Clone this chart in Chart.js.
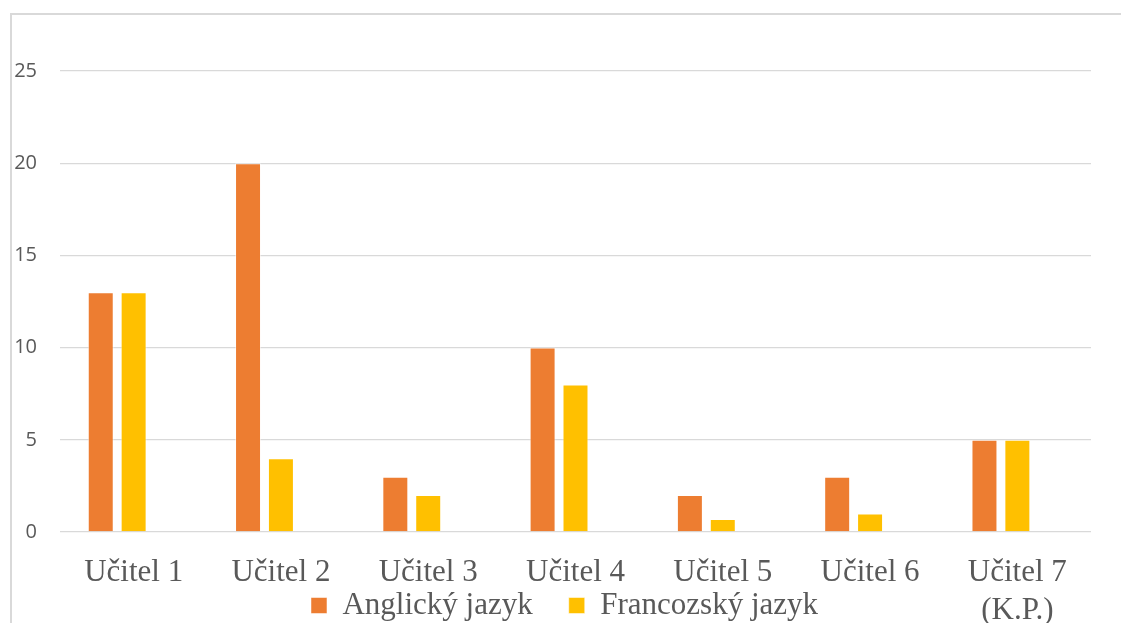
<!DOCTYPE html>
<html>
<head>
<meta charset="utf-8">
<script src="https://cdn.jsdelivr.net/npm/chart.js@4/dist/chart.umd.min.js"></script>
<style>
    body { margin: 0; overflow: hidden; background: #fff; }
    #frame { position: absolute; left: 10px; top: 13px; width: 1200px; height: 700px;
             border-top: 2px solid #d9d9d9; border-left: 2px solid #d9d9d9; }
    #wrap { position: absolute; left: 0; top: 0; width: 1121px; height: 623px; overflow: hidden; }
</style>
</head>
<body>
<div id="frame"></div>
<div id="wrap"><canvas id="chart" width="1121" height="701"></canvas></div>
<script>
var categories = ['Učitel 1', 'Učitel 2', 'Učitel 3', 'Učitel 4', 'Učitel 5', 'Učitel 6', ['Učitel 7', '(K.P.)']];
var anglicky = [13, 20, 3, 10, 2, 3, 5];
var francozsky = [13, 4, 2, 8, 0.7, 1, 5];
// third series is empty in the original, it only takes a slot
var prazdne = [null, null, null, null, null, null, null];
var yTicks = [0, 5, 10, 15, 20, 25];

// legend sits on the same row as the 2nd line of the last label, so move it up over the x axis
var moveLegend = {
    id: 'moveLegend',
    afterLayout: function (chart) {
        var lg = chart.legend;
        var h = lg.bottom - lg.top;
        lg.top = 554;
        lg.bottom = lg.top + h;
        lg.left += 19;
        lg.right += 19;
    }
};

var ctx = document.getElementById('chart').getContext('2d');
var chart = new Chart(ctx, {
    type: 'bar',
    data: {
        labels: categories,
        datasets: [
            {
                label: 'Anglický jazyk',
                data: anglicky,
                backgroundColor: '#ed7d31',
                borderColor: 'rgba(255,255,255,0.5)',
                borderWidth: 1
            },
            {
                label: 'Francozský jazyk',
                data: francozsky,
                backgroundColor: '#ffc000',
                borderColor: 'rgba(255,255,255,0.5)',
                borderWidth: 1
            },
            {
                label: '',
                data: prazdne,
                backgroundColor: '#a5a5a5'
            }
        ]
    },
    plugins: [moveLegend],
    options: {
        responsive: false,
        animation: false,
        devicePixelRatio: 1,
        datasets: {
            bar: { categoryPercentage: 0.67, barPercentage: 0.79 }
        },
        layout: {
            padding: { left: 0, right: 30, top: 71, bottom: 0 }
        },
        plugins: {
            legend: {
                display: true,
                position: 'bottom',
                labels: {
                    filter: function (item) { return item.datasetIndex < 2; },
                    boxWidth: 16,
                    boxHeight: 16,
                    padding: 36,
                    color: '#595959',
                    font: { family: "'Liberation Serif', 'Times New Roman', serif", size: 31 }
                }
            },
            tooltip: { enabled: false }
        },
        scales: {
            x: {
                grid: { display: false },
                border: { display: false },
                afterFit: function (scale) { scale.height = 92; },
                ticks: {
                    autoSkip: false,
                    maxRotation: 0,
                    padding: 14,
                    color: '#595959',
                    font: { family: "'Liberation Serif', 'Times New Roman', serif", size: 31, lineHeight: 1.23 }
                }
            },
            y: {
                min: 0,
                max: 25,
                afterFit: function (scale) { scale.width = 60; },
                afterBuildTicks: function (scale) {
                    scale.ticks = yTicks.map(function (v) { return { value: v }; });
                },
                grid: { color: '#d9d9d9', lineWidth: 1.3, drawTicks: false },
                border: { display: false },
                ticks: {
                    padding: 23,
                    color: '#595959',
                    font: { family: "'Open Sans', sans-serif", size: 20 }
                }
            }
        }
    }
});
</script>
</body>
</html>
